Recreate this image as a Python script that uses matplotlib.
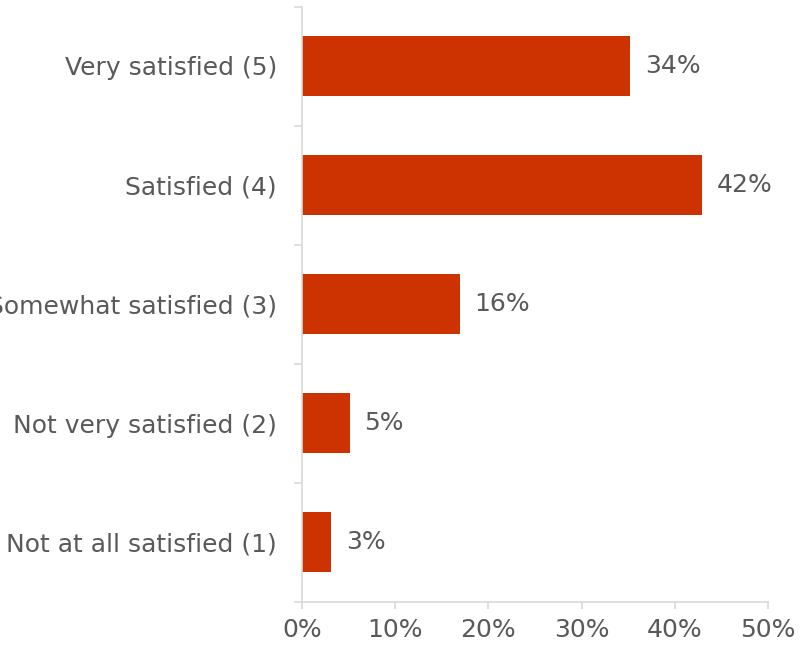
import numpy as np
import matplotlib.pyplot as plt
from matplotlib.ticker import MultipleLocator, FixedLocator, PercentFormatter

plt.rcParams['font.family'] = ['DejaVu Sans']

# data (top to bottom as shown)
categories = ["Very satisfied (5)", "Satisfied (4)", "Somewhat satisfied (3)",
              "Not very satisfied (2)", "Not at all satisfied (1)"]
values = [35.2, 42.9, 16.9, 5.1, 3.1]
value_labels = ["34%", "42%", "16%", "5%", "3%"]

bar_color = "#CC3300"
text_color = "#595959"
axis_color = "#D9D9D9"
fs = 18

fig = plt.figure(figsize=(8.09, 6.47), dpi=100)
ax = fig.add_axes([302 / 809, 1 - 601.5 / 647, 466 / 809, 595 / 647])

y = np.arange(len(categories))[::-1]
ax.barh(y, values, height=0.5, color=bar_color)

for yi, v, lab in zip(y, values, value_labels):
    ax.text(v + 1.6, yi, lab, va="center", ha="left", fontsize=fs, color=text_color)

ax.set_xlim(0, 50)
ax.set_ylim(-0.5, len(categories) - 0.5)
ax.xaxis.set_major_locator(MultipleLocator(10))
ax.xaxis.set_major_formatter(PercentFormatter(decimals=0))

# category labels between boundary ticks
ax.set_yticks(y)
ax.set_yticklabels(categories)
ax.yaxis.set_minor_locator(FixedLocator(np.arange(-0.5, len(categories), 1)))
ax.tick_params(axis="y", which="major", length=0, pad=18, labelsize=fs, labelcolor=text_color)
ax.tick_params(axis="y", which="minor", length=6, width=1.2, color=axis_color)
ax.tick_params(axis="x", which="major", length=5, width=1.2, color=axis_color,
               labelsize=fs, labelcolor=text_color, pad=7)

for s in ["top", "right"]:
    ax.spines[s].set_visible(False)
for s in ["left", "bottom"]:
    ax.spines[s].set_color(axis_color)
    ax.spines[s].set_linewidth(1.2)

fig.savefig("out.png", dpi=100)
